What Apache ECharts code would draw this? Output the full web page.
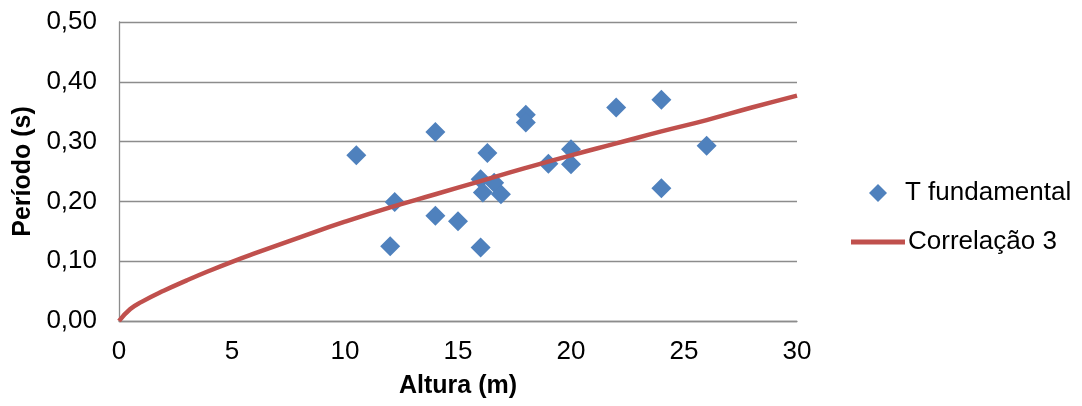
<!DOCTYPE html>
<html><head><meta charset="utf-8">
<script src="https://cdn.jsdelivr.net/npm/echarts@6/dist/echarts.min.js"></script>
<style>html,body{margin:0;padding:0;background:#fff}#c{width:1082px;height:406px}</style>
</head><body><div id="c"></div>
<script>
const alturas = [10.5, 12.2, 12.0, 14.0, 14.0, 15.0, 16.0, 16.0, 16.1, 16.3, 16.6, 16.9, 18.0, 18.0, 19.0, 20.0, 20.0, 22.0, 24.0, 24.0, 26.0];
const periodos = [0.277, 0.199, 0.125, 0.316, 0.176, 0.167, 0.123, 0.237, 0.215, 0.281, 0.231, 0.212, 0.345, 0.332, 0.263, 0.287, 0.262, 0.357, 0.370, 0.222, 0.293];
const corrX = [0, 0.5, 1, 2, 3, 4, 5, 6, 8, 10, 12, 14, 16, 18, 20, 22, 24, 26, 28, 30];
const corrY = [0, 0.020, 0.032, 0.051, 0.068, 0.084, 0.099, 0.113, 0.140, 0.166, 0.190, 0.212, 0.234, 0.256, 0.277, 0.297, 0.317, 0.336, 0.357, 0.377];
const yTicks = ['0,00','0,10','0,20','0,30','0,40','0,50'];

const font = '"Liberation Sans", Arial, sans-serif';
const chart = echarts.init(document.getElementById('c'));
chart.setOption({
  animation: false,
  grid: {left: 119, right: 285, top: 22, bottom: 85, containLabel: false, outerBoundsMode: 'none'},
  xAxis: {
    type: 'value', min: 0, max: 30, interval: 5,
    name: 'Altura (m)', nameLocation: 'middle', nameGap: 53,
    nameTextStyle: {fontFamily: font, fontSize: 25, fontWeight: 'bold', color: '#000'},
    axisLine: {show: true, lineStyle: {color: '#8c8c8c', width: 1.3}},
    axisTick: {show: false},
    splitLine: {show: false},
    axisLabel: {fontFamily: font, fontSize: 26, color: '#000', margin: 18}
  },
  yAxis: {
    type: 'value', min: 0, max: 0.5, interval: 0.1,
    name: 'Período (s)', nameLocation: 'middle', nameGap: 82, nameRotate: 90,
    nameTextStyle: {fontFamily: font, fontSize: 25, fontWeight: 'bold', color: '#000'},
    axisLine: {show: true, lineStyle: {color: '#8c8c8c', width: 1.3}},
    axisTick: {show: false},
    splitLine: {show: true, lineStyle: {color: '#8c8c8c', width: 1.3}},
    axisLabel: {fontFamily: font, fontSize: 26, color: '#000', margin: 22,
      formatter: (v) => yTicks[Math.round(v * 10)]}
  },
  legend: [
    {data: [{name: 'T fundamental', icon: 'diamond'}], left: 864, top: 175, itemWidth: 18, itemHeight: 18,
     textStyle: {fontFamily: font, fontSize: 26, color: '#000', padding: [0, 0, 0, 13]}},
    {data: [{name: 'Correlação 3', icon: 'rect'}], left: 846, top: 224, itemWidth: 54, itemHeight: 5,
     textStyle: {fontFamily: font, fontSize: 26, color: '#000', padding: [0, 0, 0, -2]}}
  ],
  series: [
    {name: 'Correlação 3', type: 'line', data: corrX.map((x, i) => [x, corrY[i]]),
     smooth: true, symbol: 'none', lineStyle: {color: '#C0504D', width: 4.5}, itemStyle: {color: '#C0504D'}, z: 3},
    {name: 'T fundamental', type: 'scatter', data: alturas.map((x, i) => [x, periodos[i]]),
     symbol: 'diamond', symbolSize: 20, itemStyle: {color: '#4F81BD', opacity: 1}, z: 2}
  ]
});
</script></body></html>
